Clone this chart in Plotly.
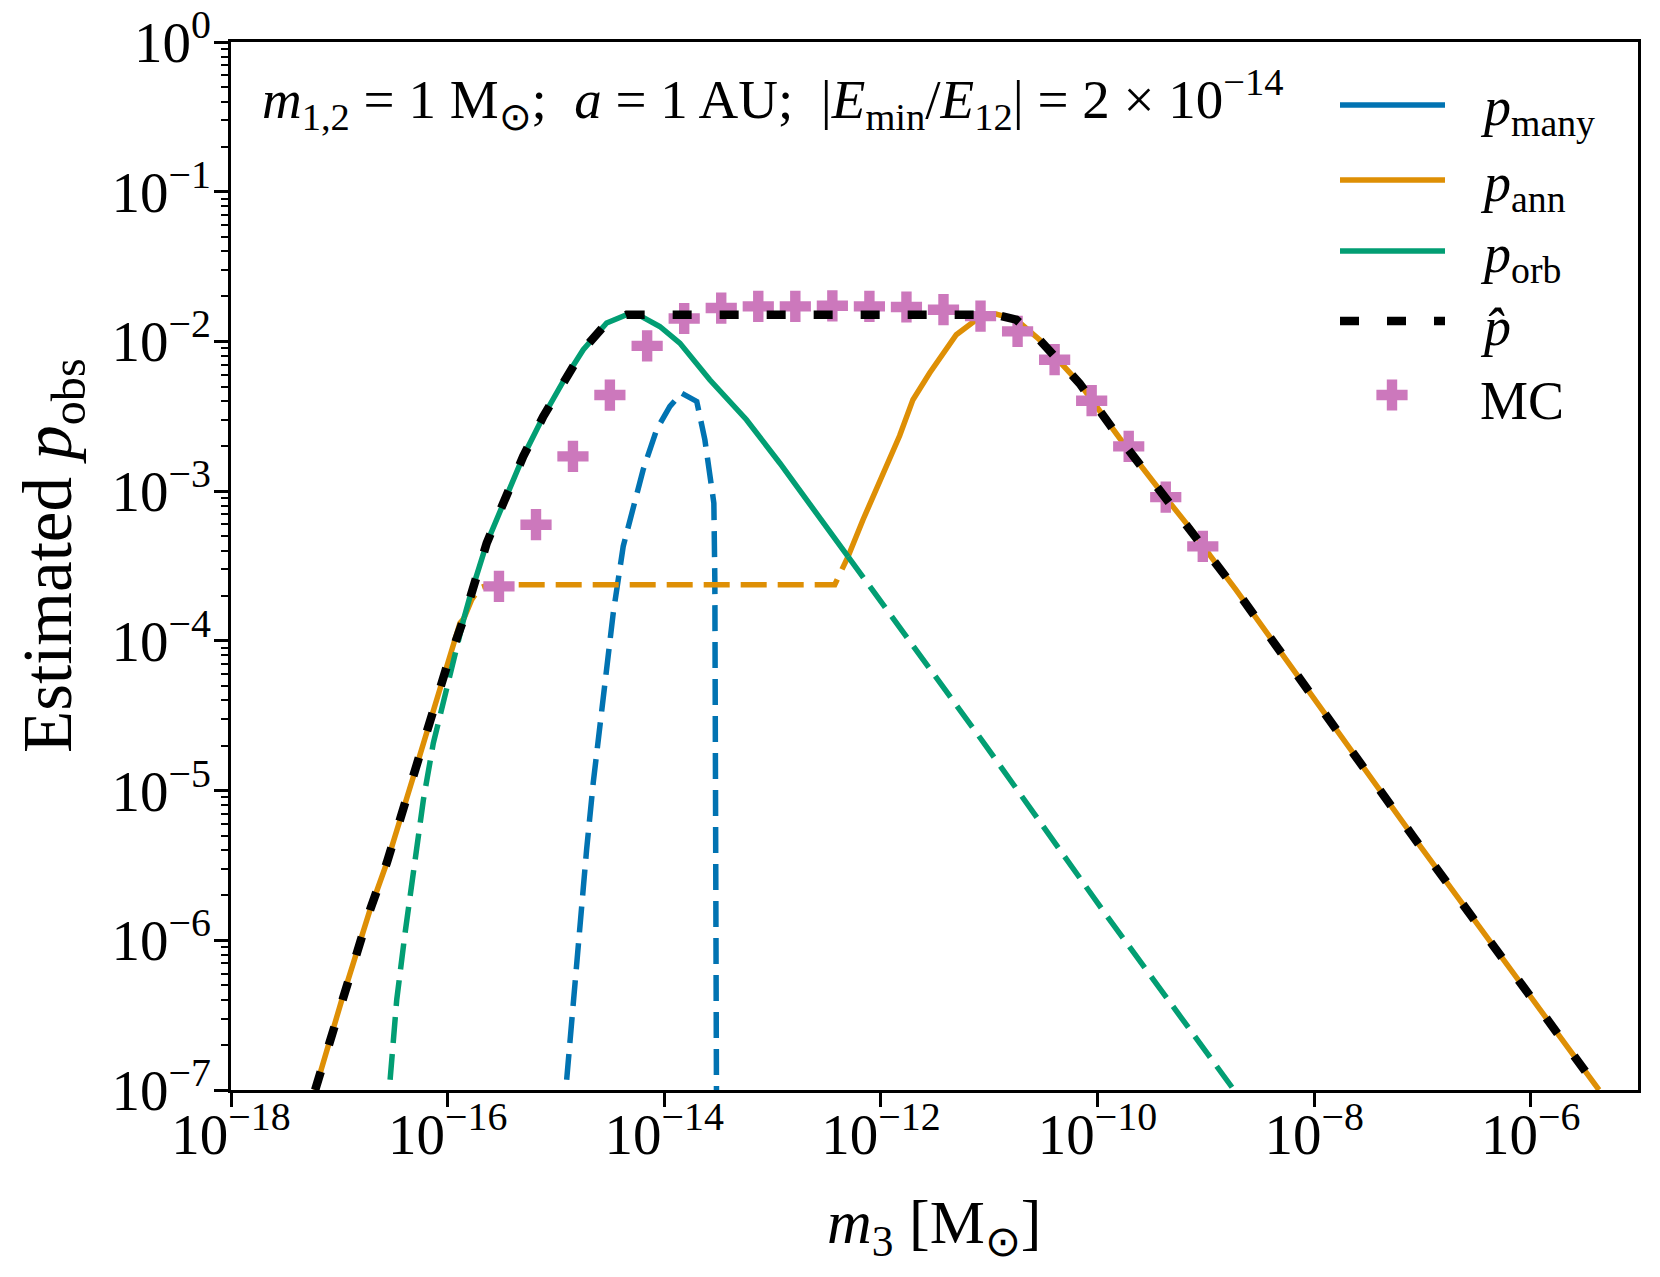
import plotly.graph_objects as go

# values, stored as log10(m3 / Msun) and log10(p_obs)

# p_ann: solid where it is the largest term, dashed otherwise
ann_left_logm = [-17.223, -16.977, -16.716, -16.562, -16.316, -16.101, -16.008, -15.886, -15.85]
ann_left_logp = [-7.0, -6.398, -5.796, -5.484, -4.906, -4.393, -4.171, -3.881, -3.85]
ann_mid_logm = [-15.85, -15.778, -15.70, -15.62, -12.426, -12.303]
ann_mid_logp = [-3.85, -3.725, -3.645, -3.625, -3.625, -3.437]
ann_right_logm = [-12.303, -12.165, -11.827, -11.704, -11.55, -11.427, -11.304, -11.12,
                  -10.966, -10.935, -10.75, -10.535, -10.166, -9.797, -9.428, -9.059,
                  -8.951, -8.721, -7.092, -5.37]
ann_right_logp = [-3.437, -3.191, -2.63, -2.389, -2.211, -2.078, -1.955, -1.855,
                  -1.822, -1.818, -1.855, -1.989, -2.28, -2.645, -2.991, -3.325,
                  -3.44, -3.66, -5.301, -7.0]

# p_orb
orb_low_logm = [-16.531, -16.470, -16.393, -16.310, -16.224, -16.132, -16.033, -15.94, -15.85]
orb_low_logp = [-6.932, -6.398, -5.952, -5.507, -5.062, -4.683, -4.393, -4.10, -3.85]
orb_mid_logm = [-15.85, -15.793, -15.639, -15.486, -15.302, -15.117, -14.933, -14.748,
                -14.532, -14.348, -14.225, -14.041, -13.856, -13.58, -13.241, -12.934,
                -12.626, -12.303]
orb_mid_logp = [-3.85, -3.703, -3.347, -3.08, -2.768, -2.501, -2.267, -2.055,
                -1.877, -1.822, -1.828, -1.9, -2.011, -2.256, -2.523, -2.812,
                -3.124, -3.437]
orb_tail_logm = [-12.303, -11.027, -9.951, -8.74]
orb_tail_logp = [-3.437, -4.704, -5.80, -7.0]

# p_many (dashed everywhere)
many_logm = [-14.901, -14.84, -14.779, -14.717, -14.656, -14.578, -14.471, -14.379,
             -14.287, -14.195, -14.071, -13.948, -13.84, -13.70, -13.625, -13.579,
             -13.542, -13.533, -13.518]
many_logp = [-6.932, -6.398, -5.952, -5.396, -4.95, -4.46, -3.814, -3.369,
             -3.102, -2.857, -2.590, -2.434, -2.345, -2.401, -2.657, -2.879,
             -3.08, -3.592, -7.0]

# p_hat estimate
phat_logm = [-17.223, -16.977, -16.716, -16.562, -16.316, -16.101, -16.008, -15.85,
             -15.793, -15.639, -15.486, -15.302, -15.117, -14.933, -14.748, -14.532,
             -14.348, -10.935, -10.75, -10.535, -10.166, -9.797, -9.428, -9.059,
             -8.721, -7.092, -5.37]
phat_logp = [-7.0, -6.398, -5.796, -5.484, -4.906, -4.393, -4.171, -3.85,
             -3.703, -3.347, -3.08, -2.768, -2.501, -2.267, -2.055, -1.877,
             -1.822, -1.822, -1.855, -1.989, -2.28, -2.645, -2.991, -3.325,
             -3.66, -5.301, -7.0]

# Monte Carlo points
mc_logm = [-15.526, -15.184, -14.843, -14.502, -14.158, -13.816, -13.474, -13.132,
           -12.79, -12.448, -12.106, -11.764, -11.422, -11.08, -10.738, -10.396,
           -10.054, -9.712, -9.37, -9.028]
mc_logp = [-3.636, -3.224, -2.768, -2.358, -2.03, -1.847, -1.777, -1.766,
           -1.766, -1.762, -1.766, -1.77, -1.788, -1.831, -1.933, -2.122,
           -2.396, -2.701, -3.04, -3.369]

# ticks
x_tick_exp = [-18, -16, -14, -12, -10, -8, -6]
y_tick_exp = [-7, -6, -5, -4, -3, -2, -1, 0]

legend_labels = ['<i>p</i><sub>many</sub>', '<i>p</i><sub>ann</sub>', '<i>p</i><sub>orb</sub>',
                 '<i>p&#770;</i>', 'MC']

BLUE = '#0173b2'
ORANGE = '#de8f05'
GREEN = '#029e73'
PINK = '#cc78bc'
FONT = 'Liberation Serif'

W, H = 1660, 1277
# plot area in page pixels (the page margin is removed below)
L, R, T, B = 231, 1638, 42, 1090
LW = 5.5
HAT_LW = 8.5
DASH = '26px,11px'
HAT_DASH = '19px,28px'
MC_SIZE = 26


def pw(vals):
    return [10.0 ** v for v in vals]


def power_label(e):
    return '10<sup>' + str(e).replace('-', '−') + '</sup>'


def px(x):
    return (x - L) / (R - L)


def py(y):
    return (B - y) / (B - T)


fig = go.Figure()


def add_line(logm, logp, color, dash, width=LW):
    fig.add_trace(go.Scatter(
        x=pw(logm), y=pw(logp), mode='lines',
        line=dict(color=color, width=width, dash=dash),
        showlegend=False, hoverinfo='skip'
    ))


add_line(many_logm, many_logp, BLUE, DASH)
add_line(ann_left_logm, ann_left_logp, ORANGE, 'solid')
add_line(ann_mid_logm, ann_mid_logp, ORANGE, DASH)
add_line(ann_right_logm, ann_right_logp, ORANGE, 'solid')
add_line(orb_low_logm, orb_low_logp, GREEN, DASH)
add_line(orb_mid_logm, orb_mid_logp, GREEN, 'solid')
add_line(orb_tail_logm, orb_tail_logp, GREEN, DASH)

fig.add_trace(go.Scatter(
    x=pw(mc_logm), y=pw(mc_logp), mode='markers',
    marker=dict(symbol='cross', size=MC_SIZE, color=PINK, line=dict(width=0)),
    showlegend=False, hoverinfo='skip'
))

add_line(phat_logm, phat_logp, 'black', HAT_DASH, width=HAT_LW)

# hand-made legend, top right inside the axes
rows = [105, 180, 251, 321, 395]
styles = [(BLUE, 'solid', LW), (ORANGE, 'solid', LW), (GREEN, 'solid', LW), ('black', HAT_DASH, HAT_LW)]
shapes = []
for (color, dash, width), yrow in zip(styles, rows):
    shapes.append(dict(type='line', xref='paper', yref='paper',
                       x0=px(1340), x1=px(1445), y0=py(yrow), y1=py(yrow),
                       line=dict(color=color, width=width, dash=dash)))

fig.add_trace(go.Scatter(
    x=[px(1392)], y=[py(rows[4])], xaxis='x2', yaxis='y2', mode='markers',
    marker=dict(symbol='cross', size=MC_SIZE, color=PINK, line=dict(width=0)),
    showlegend=False, hoverinfo='skip'
))

annotations = []
for label, yrow in zip(legend_labels, rows):
    annotations.append(dict(text=label, xref='paper', yref='paper', x=px(1478), y=py(yrow + 6),
                            xanchor='left', yanchor='middle', showarrow=False,
                            font=dict(family=FONT, size=54, color='black')))

annotations.append(dict(
    text='<i>m</i><sub>1,2</sub> = 1 M<sub>⊙</sub>;  <i>a</i> = 1 AU;  '
         '|<i>E</i><sub>min</sub>/<i>E</i><sub>12</sub>| = 2 × 10<sup>−14</sup>',
    xref='paper', yref='paper', x=px(260), y=py(100), xanchor='left', yanchor='middle',
    showarrow=False, font=dict(family=FONT, size=55, color='black')))

# axis titles placed as text in page pixels
annotations.append(dict(
    text='<i>m</i><sub>3</sub> [M<sub>⊙</sub>]',
    xref='paper', yref='paper', x=px(934), y=py(1226), xanchor='center', yanchor='middle',
    showarrow=False, font=dict(family=FONT, size=62, color='black')))
annotations.append(dict(
    text='Estimated <i>p</i><sub>obs</sub>', textangle=-90,
    xref='paper', yref='paper', x=px(52), y=py(556), xanchor='center', yanchor='middle',
    showarrow=False, font=dict(family=FONT, size=69, color='black')))

axis_common = dict(
    type='log', showline=True, linecolor='black', linewidth=2.5, mirror=True,
    ticks='outside', ticklen=14, tickwidth=2.5, tickcolor='black',
    showgrid=False, zeroline=False, automargin=False, ticklabeloverflow='allow',
    tickfont=dict(family=FONT, size=57, color='black'),
)

fig.update_layout(
    width=W, height=H,
    margin=dict(l=L, r=W - R, t=T, b=H - B),
    plot_bgcolor='white', paper_bgcolor='white',
    showlegend=False,
    font=dict(family=FONT, color='black'),
    xaxis=dict(axis_common, range=[-18, -5.01],
               tickmode='array', tickvals=pw(x_tick_exp),
               ticktext=[power_label(e) for e in x_tick_exp],
               ticklabelstandoff=-21),
    yaxis=dict(axis_common, range=[-7, 0],
               tickmode='array', tickvals=pw(y_tick_exp),
               ticktext=[power_label(e) for e in y_tick_exp],
               ticklabelstandoff=-8,
               minor=dict(ticks='outside', ticklen=7, tickwidth=2, tickcolor='black', dtick='D1')),
    xaxis2=dict(overlaying='x', anchor='y2', range=[0, 1], visible=False),
    yaxis2=dict(overlaying='y', anchor='x2', range=[0, 1], visible=False),
    shapes=shapes,
    annotations=annotations,
)

# drop the browser's default body margin so the figure fills the window exactly
fig.write_html('out.html', config={'displayModeBar': False},
               post_script="document.body.style.margin = '0';")
